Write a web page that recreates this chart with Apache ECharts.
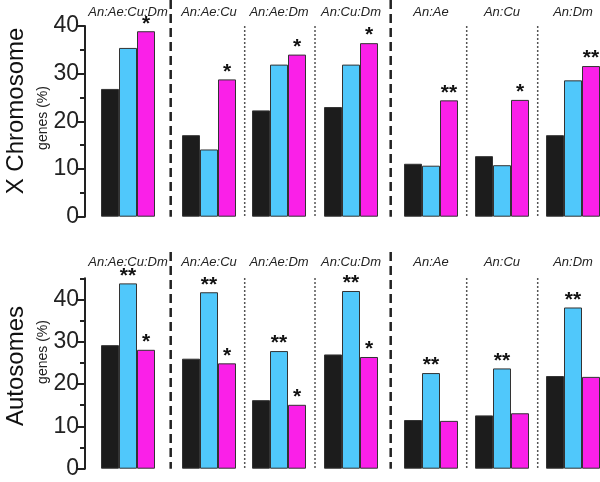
<!DOCTYPE html>
<html><head><meta charset="utf-8">
<script src="https://cdn.jsdelivr.net/npm/echarts@6/dist/echarts.min.js"></script>
<style>html,body{margin:0;padding:0;background:#fff}#c{width:600px;height:482px}</style>
</head><body><div id="c"></div>
<script>
// ---- data ----
const groups = ['An:Ae:Cu:Dm','An:Ae:Cu','An:Ae:Dm','An:Cu:Dm','An:Ae','An:Cu','An:Dm'];
// each group: [black, blue, magenta]
const xChromValues = [
  [26.8, 35.4, 38.9],
  [17.1, 14.1, 28.8],
  [22.3, 31.9, 34.0],
  [23.0, 31.9, 36.4],
  [11.1, 10.7, 24.4],
  [12.7, 10.8, 24.5],
  [17.1, 28.6, 31.6]
];
const xChromStars = [
  ['', '', '*'], ['', '', '*'], ['', '', '*'], ['', '', '*'],
  ['', '', '**'], ['', '', '*'], ['', '', '**']
];
const autoValues = [
  [29.2, 43.8, 28.1],
  [26.0, 41.7, 24.9],
  [16.2, 27.8, 15.1],
  [27.0, 42.0, 26.4],
  [11.5, 22.6, 11.3],
  [12.6, 23.7, 13.1],
  [21.9, 38.1, 21.7]
];
const autoStars = [
  ['', '**', '*'], ['', '**', '*'], ['', '**', '*'], ['', '**', '*'],
  ['', '**', ''], ['', '**', ''], ['', '**', '']
];
const barKeys = ['a','b','c'];
const topMajorTicks = [0, 10, 20, 30, 40];
const topMinorTicks = [5, 15, 25, 35];
const botMajorTicks = [0, 10, 20, 30, 40];
const botMinorTicks = [5, 15, 25, 35, 45];
const topMax = 40, botMax = 45;
const rowTitles = ['X Chromosome', 'Autosomes'];
const unitTitle = 'genes (%)';

// ---- layout / style ----
const colors = ['#1c1c1c', '#50c8fb', '#fa20e8'];
const gridLefts = [101, 182, 252, 324, 404, 475, 546];
const gridW = 54;
const rows = [
  {top: 26, height: 190.7, max: topMax, vals: xChromValues, stars: xChromStars, major: topMajorTicks, minor: topMinorTicks, labelGap: 7},
  {top: 278.3, height: 190.4, max: botMax, vals: autoValues, stars: autoStars, major: botMajorTicks, minor: botMinorTicks, labelGap: 9}
];
const font = "'Liberation Sans', Arial, sans-serif";

const grid = [], xAxis = [], yAxis = [], series = [];
rows.forEach((r, ri) => {
  groups.forEach((g, gi) => {
    const gIdx = grid.length;
    grid.push({left: gridLefts[gi], top: r.top, width: gridW, height: r.height});
    xAxis.push({
      type: 'category', gridIndex: gIdx, data: barKeys, position: 'top',
      name: g, nameLocation: 'middle', nameGap: r.labelGap,
      nameTextStyle: {fontStyle: 'italic', fontSize: 13, color: '#222', fontFamily: font},
      axisLine: {show: false}, axisTick: {show: false}, axisLabel: {show: false}
    });
    const yIdx = yAxis.length;
    if (gi === 0) {
      yAxis.push({
        type: 'value', gridIndex: gIdx, min: 0, max: r.max, offset: 16, position: 'left',
        axisLine: {show: true, lineStyle: {color: '#222', width: 2}},
        axisTick: {show: true, length: 8, customValues: r.major, lineStyle: {color: '#222', width: 2}},
        axisLabel: {show: true, customValues: r.major, fontSize: 23, color: '#222', margin: 6, fontFamily: font},
        splitLine: {show: false}
      });
      yAxis.push({
        type: 'value', gridIndex: gIdx, min: 0, max: r.max, offset: 16, position: 'left',
        axisLine: {show: false},
        axisTick: {show: true, length: 5, customValues: r.minor, lineStyle: {color: '#222', width: 2}},
        axisLabel: {show: false},
        splitLine: {show: false}
      });
    } else {
      yAxis.push({
        type: 'value', gridIndex: gIdx, min: 0, max: r.max, show: false, splitLine: {show: false}
      });
    }
    series.push({
      type: 'bar', xAxisIndex: gIdx, yAxisIndex: yIdx,
      barCategoryGap: '0%',
      data: r.vals[gi].map((v, k) => ({value: v, itemStyle: {color: colors[k]}})),
      itemStyle: {borderColor: '#333', borderWidth: 1},
      label: {
        show: true, position: 'top', distance: -3,
        formatter: (p) => r.stars[gi][p.dataIndex],
        fontSize: 21, fontWeight: 'bold', color: '#111', fontFamily: font
      },
      silent: true, animation: false
    });
  });
});

// separators (decoration)
const seps = [
  {x: 170.7, dash: true}, {x: 244.7, dash: false}, {x: 315, dash: false},
  {x: 390.7, dash: true}, {x: 466.7, dash: false}, {x: 537.7, dash: false}
];
const graphic = [];
const sepRows = [
  {dashTop: 0, dotTop: 26, bottom: 216.7},
  {dashTop: 252, dotTop: 278, bottom: 468.7}
];
sepRows.forEach(sr => {
  seps.forEach(s => {
    graphic.push({
      type: 'line', silent: true,
      shape: {x1: s.x, y1: s.dash ? sr.dashTop : sr.dotTop, x2: s.x, y2: sr.bottom},
      style: s.dash
        ? {stroke: '#222', lineWidth: 2.5, lineDash: [9, 5]}
        : {stroke: '#555', lineWidth: 1.5, lineDash: [2, 2]}
    });
  });
});
// row titles
const titleY = [111, 366];
const unitY = [118, 352];
rowTitles.forEach((t, i) => {
  graphic.push({
    type: 'text', x: 16, y: titleY[i], rotation: Math.PI / 2,
    style: {text: t, fontSize: 24, fill: '#111', fontFamily: font, align: 'center', verticalAlign: 'middle'}
  });
  graphic.push({
    type: 'text', x: 43, y: unitY[i], rotation: Math.PI / 2,
    style: {text: unitTitle, fontSize: 14, fill: '#222', fontFamily: font, align: 'center', verticalAlign: 'middle'}
  });
});

const chart = echarts.init(document.getElementById('c'), null, {renderer: 'canvas'});
chart.setOption({animation: false, grid, xAxis, yAxis, series, graphic});
</script>
</body></html>
